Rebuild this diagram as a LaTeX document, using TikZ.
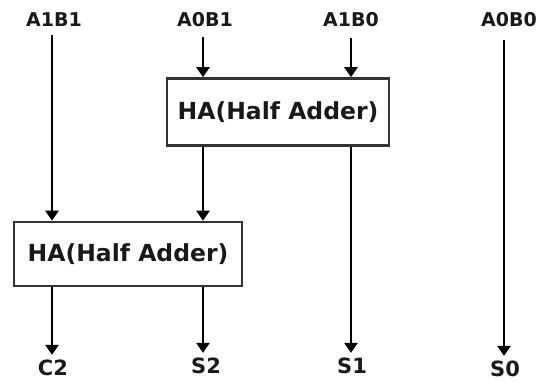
\documentclass[tikz,border=0pt]{standalone}
\usepackage{fontspec}
\setmainfont{DejaVu Sans}
\usetikzlibrary{arrows.meta}
\begin{document}
\begin{tikzpicture}[x=1pt,y=-1pt,
  lbl/.style={font=\bfseries\fontsize{19}{21}\selectfont, inner sep=0pt, text=black!90},
  olbl/.style={font=\bfseries\fontsize{21}{23}\selectfont, inner sep=0pt, text=black!90},
  hbox/.style={draw=black!80, line width=2.6pt, inner sep=0pt,
    font=\bfseries\fontsize{23.5}{28}\selectfont, text=black!90},
  wire/.style={line width=2.8pt, -{Triangle[width=13pt,length=10pt]}},
  tail/.style={shorten >=5pt}]
\useasboundingbox (0,0) rectangle (547,381);
% input labels
\node[lbl] (a1b1) at (54,20) {A1B1};
\node[lbl] (a0b1) at (205,20) {A0B1};
\node[lbl] (a1b0) at (351,20) {A1B0};
\node[lbl] (a0b0) at (509,20) {A0B0};
% line start points
\coordinate (in1) at (52,35);
\coordinate (in2) at (203,37);
\coordinate (in3) at (351,38);
\coordinate (in4) at (504,40);
% half adders
\node[hbox, minimum width=222pt, minimum height=67pt] (ha1) at (278,112) {HA(Half Adder)};
\node[hbox, minimum width=228pt, minimum height=64pt] (ha2) at (128,254) {HA(Half Adder)};
% output labels
\node[olbl] (c2) at (53,368) {C2};
\node[olbl] (s2) at (206,366) {S2};
\node[olbl] (s1) at (352,366) {S1};
\node[olbl] (s0) at (505,369) {S0};
% wires
\draw[wire] (in1) -- (in1 |- ha2.north);
\draw[wire] (in2) -- (in2 |- ha1.north);
\draw[wire] (in3) -- (in3 |- ha1.north);
\draw[wire] (ha1.south -| in2) -- (ha2.north -| in2);
\draw[wire,tail] (ha1.south -| in3) -- (s1.north -| in3);
\draw[wire,tail] (ha2.south -| in1) -- (c2.north -| in1);
\draw[wire,tail] (ha2.south -| in2) -- (s2.north -| in2);
\draw[wire,tail] (in4) -- (s0.north -| in4);
\end{tikzpicture}
\end{document}
